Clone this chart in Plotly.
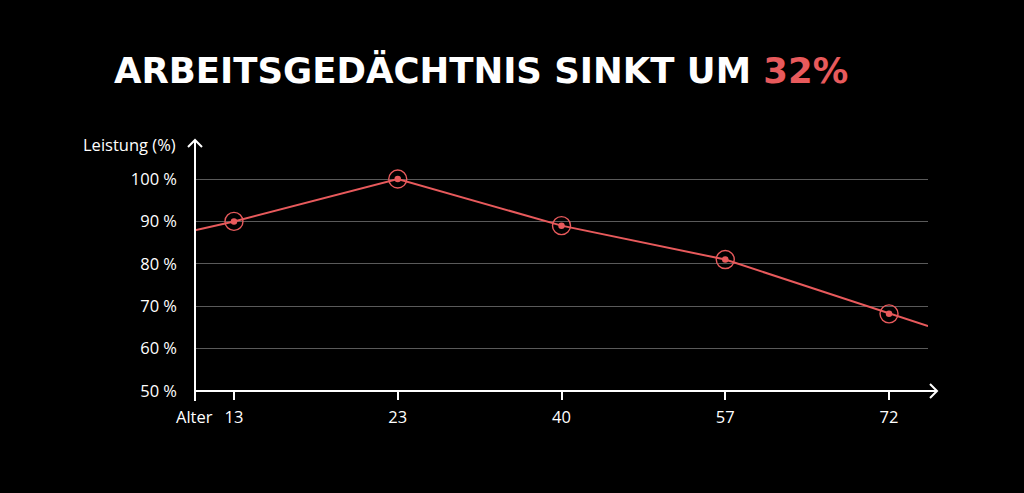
import plotly.graph_objects as go

# ---- data ----
ages = ["13", "23", "40", "57", "72"]
performance = [90, 100, 89, 81, 68.2]
edge_values = [87.9, 65.3]          # where the line meets the left / right edge of the plot
y_ticks = [50, 60, 70, 80, 90, 100]
y_tick_labels = [f"{v} %" for v in y_ticks]
title_main = "ARBEITSGEDÄCHTNIS SINKT UM "
title_highlight = "32%"
y_title = "Leistung (%)"
x_title = "Alter"

RED = "#e85a5c"
WHITE = "#ffffff"
GRID = "#5a5a5a"
FONT = "'Open Sans', sans-serif"
TITLE_FONT = "'DejaVu Sans', sans-serif"
LABEL_SIZE = 16.5

idx = list(range(len(ages)))
pad = 0.238
x_range = [-pad, len(ages) - 1 + pad]
y_range = [50, 109.2]

fig = go.Figure()

line_x = [x_range[0]] + idx + [x_range[1]]
line_y = [edge_values[0]] + performance + [edge_values[1]]
fig.add_trace(go.Scatter(x=line_x, y=line_y, mode="lines",
                         line=dict(color=RED, width=2), hoverinfo="skip", cliponaxis=False))
fig.add_trace(go.Scatter(x=idx, y=performance, mode="markers",
                         marker=dict(symbol="circle-open", size=18, color=RED, line=dict(width=1.4, color=RED)),
                         cliponaxis=False))
fig.add_trace(go.Scatter(x=idx, y=performance, mode="markers",
                         marker=dict(symbol="circle", size=6.5, color=RED), cliponaxis=False))

shapes = [
    dict(type="line", xref="paper", yref="paper", x0=0, x1=1 + 9 / 733, y0=0, y1=0,
         line=dict(color=WHITE, width=2)),
    dict(type="line", xref="paper", yref="paper", x0=0, x1=0, y0=-10 / 251, y1=1,
         line=dict(color=WHITE, width=2)),
    dict(type="path", xref="paper", yref="paper", xsizemode="pixel", ysizemode="pixel",
         xanchor=0, yanchor=1, path="M -7 -7 L 0 0 L 7 -7", line=dict(color=WHITE, width=2)),
    dict(type="path", xref="paper", yref="paper", xsizemode="pixel", ysizemode="pixel",
         xanchor=1 + 9 / 733, yanchor=0, path="M -7 7 L 0 0 L -7 -7", line=dict(color=WHITE, width=2)),
]

annotations = [
    dict(text=f"<b>{title_main}<span style='color:{RED}'>{title_highlight}</span></b>",
         xref="paper", yref="paper", x=-83 / 733, y=(493 - 70 - 102) / 251, xanchor="left", yanchor="middle",
         showarrow=False, font=dict(family=TITLE_FONT, size=35.5, color=WHITE)),
    dict(text=y_title, xref="paper", yref="paper", x=-17 / 733, y=1 - 4 / 251, xanchor="right", yanchor="middle",
         showarrow=False, font=dict(family=FONT, size=LABEL_SIZE, color=WHITE)),
    dict(text=x_title, xref="paper", yref="paper", x=-1 / 733, y=-25 / 251, xanchor="center", yanchor="middle",
         showarrow=False, font=dict(family=FONT, size=LABEL_SIZE, color=WHITE)),
]

fig.update_layout(
    width=1024, height=493,
    margin=dict(l=195, r=96, t=140, b=102),
    paper_bgcolor="black", plot_bgcolor="black",
    showlegend=False,
    font=dict(family=FONT, size=LABEL_SIZE, color=WHITE),
    shapes=shapes, annotations=annotations,
    xaxis=dict(range=x_range, tickmode="array", tickvals=idx, ticktext=ages,
               showgrid=False, zeroline=False, showline=False,
               ticks="outside", ticklen=8, tickwidth=2, tickcolor=WHITE, ticklabelstandoff=3,
               tickfont=dict(family=FONT, size=LABEL_SIZE, color=WHITE)),
    yaxis=dict(range=y_range, tickmode="array", tickvals=y_ticks, ticktext=y_tick_labels,
               showgrid=True, gridcolor=GRID, gridwidth=1, zeroline=False, showline=False,
               ticks="", ticklabelstandoff=17,
               tickfont=dict(family=FONT, size=LABEL_SIZE, color=WHITE)),
)

fig.write_html("out.html", config={"displayModeBar": False},
               post_script="document.body.style.margin='0';document.body.style.overflow='hidden';document.body.style.background='black';")
